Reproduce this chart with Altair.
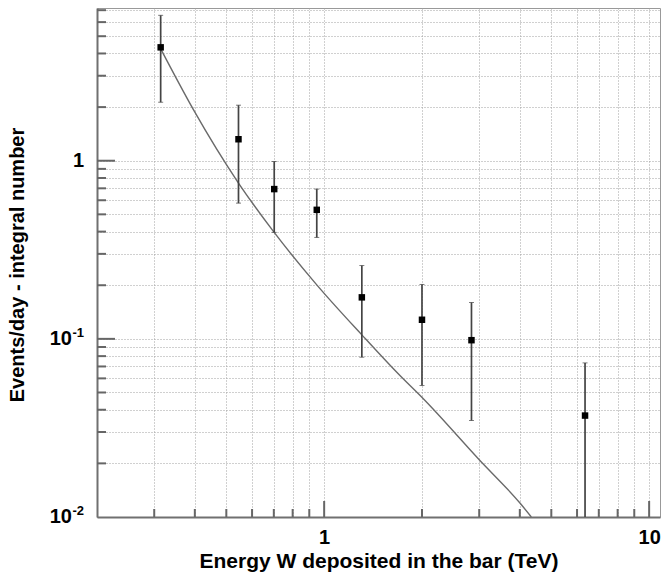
import altair as alt
import pandas as pd

# Measured integral event rates per day versus deposited energy
energy = [0.314, 0.545, 0.702, 0.949, 1.306, 2.00, 2.84, 6.35]
rate = [4.33, 1.32, 0.693, 0.530, 0.171, 0.128, 0.0983, 0.0371]
rate_hi = [6.55, 2.05, 0.99, 0.693, 0.258, 0.202, 0.160, 0.0733]
rate_lo = [2.13, 0.578, 0.396, 0.371, 0.0789, 0.0547, 0.0348, 0.001]

# Expected integral spectrum
fit_energy = [0.315, 0.396, 0.545, 0.698, 0.949, 1.306, 1.714, 2.012, 3.005, 4.01, 4.34]
fit_rate = [4.20, 1.934, 0.749, 0.401, 0.201, 0.1053, 0.0620, 0.0464, 0.0209, 0.01194, 0.0100]

# Axis ticks and grid positions
x_major = [1, 10]
x_minor = [0.3, 0.4, 0.5, 0.6, 0.7, 0.8, 0.9, 2, 3, 4, 5, 6, 7, 8, 9]
y_major = [1, 0.1]
y_minor = [0.02, 0.03, 0.04, 0.05, 0.06, 0.07, 0.08, 0.09,
           0.2, 0.3, 0.4, 0.5, 0.6, 0.7, 0.8, 0.9,
           2, 3, 4, 5, 6, 7]
y_label_pow = [0.1, 0.01]
y_label_exp = ["-1", "-2"]

W, H = 563, 509
FONT = "Liberation Sans"
TICK = "#666666"

points = pd.DataFrame({"energy": energy, "rate": rate, "hi": rate_hi, "lo": rate_lo})
fit = pd.DataFrame({"energy": fit_energy, "rate": fit_rate})

xscale = alt.Scale(type="log", domain=[0.2, 10.8], nice=False)
yscale = alt.Scale(type="log", domain=[0.01, 7.2], nice=False)

xaxis = alt.Axis(
    values=x_minor + x_major,
    labelExpr="datum.value == 1 ? '1' : datum.value == 10 ? '10' : ''",
    labelOverlap=False, labelFont=FONT, labelFontSize=20, labelFontWeight="bold",
    labelColor="black", labelPadding=10, labelAlign="center",
    ticks=False, grid=True, gridDash=[1, 2], gridColor="#a0a0a0", gridWidth=1,
    domainColor="#707070", domainWidth=2,
    title="Energy W deposited in the bar (TeV)", titleFont=FONT, titleFontSize=21,
    titleFontWeight="bold", titleColor="black", titleY=44, titleBaseline="middle",
)
yaxis = alt.Axis(
    values=y_minor + y_major,
    labels=False, ticks=False, grid=True, gridDash=[1, 2], gridColor="#a0a0a0", gridWidth=1,
    domainColor="#707070", domainWidth=2,
    title="Events/day - integral number", titleFont=FONT, titleFontSize=20,
    titleFontWeight="bold", titleColor="black", titleX=-80, titleY=H / 2 + 2,
    titleBaseline="middle", titleAngle=-90,
)

curve = alt.Chart(fit).mark_line(color="#6a6a6a", strokeWidth=1.4, clip=True,
                                 interpolate="monotone").encode(
    x=alt.X("energy:Q", scale=xscale, axis=xaxis),
    y=alt.Y("rate:Q", scale=yscale, axis=yaxis),
)

bars = alt.Chart(points).mark_rule(color="#444444", strokeWidth=1.7, clip=True).encode(
    x="energy:Q", y="lo:Q", y2="hi:Q"
)
cap_hi = alt.Chart(points).mark_tick(color="#444444", orient="horizontal", size=5,
                                     thickness=1, clip=True).encode(x="energy:Q", y="hi:Q")
cap_lo = alt.Chart(points).mark_tick(color="#444444", orient="horizontal", size=5,
                                     thickness=1, clip=True).encode(x="energy:Q", y="lo:Q")
markers = alt.Chart(points).mark_square(color="black", size=42, opacity=1).encode(
    x="energy:Q", y="rate:Q"
)

# Ticks drawn inside the frame
xt_major = alt.Chart(pd.DataFrame({"v": x_major})).mark_rule(color=TICK, strokeWidth=2).encode(
    x="v:Q", y=alt.value(H), y2=alt.value(H - 16))
xt_minor = alt.Chart(pd.DataFrame({"v": x_minor})).mark_rule(color=TICK, strokeWidth=2).encode(
    x="v:Q", y=alt.value(H), y2=alt.value(H - 8))
yt_major = alt.Chart(pd.DataFrame({"v": y_major})).mark_rule(color=TICK, strokeWidth=2).encode(
    y="v:Q", x=alt.value(0), x2=alt.value(18))
yt_minor = alt.Chart(pd.DataFrame({"v": y_minor})).mark_rule(color=TICK, strokeWidth=2).encode(
    y="v:Q", x=alt.value(0), x2=alt.value(9))

# Y labels: "1" and powers of ten with raised exponents
lab_one = alt.Chart(pd.DataFrame({"v": [1], "t": ["1"]})).mark_text(
    font=FONT, fontSize=20, fontWeight="bold", color="black", align="right", baseline="middle"
).encode(y="v:Q", x=alt.value(-13), text="t:N")
lab_base = alt.Chart(pd.DataFrame({"v": y_label_pow, "t": ["10", "10"]})).mark_text(
    font=FONT, fontSize=20, fontWeight="bold", color="black", align="right", baseline="middle"
).encode(y="v:Q", x=alt.value(-25), text="t:N")
lab_exp = alt.Chart(pd.DataFrame({"v": y_label_pow, "t": y_label_exp})).mark_text(
    font=FONT, fontSize=13, fontWeight="bold", color="black", align="right", baseline="middle", dy=-6
).encode(y="v:Q", x=alt.value(-13), text="t:N")

chart = alt.layer(
    curve, bars, cap_hi, cap_lo, markers,
    xt_major, xt_minor, yt_major, yt_minor,
    lab_one, lab_base, lab_exp,
).properties(
    width=W, height=H,
    autosize=alt.AutoSizeParams(type="none"),
    padding={"left": 97, "top": 8, "right": 2, "bottom": 64},
    background="white",
).configure_view(stroke="#999999", strokeWidth=1)

chart.save("out.html", embed_options={"renderer": "svg", "actions": False})
